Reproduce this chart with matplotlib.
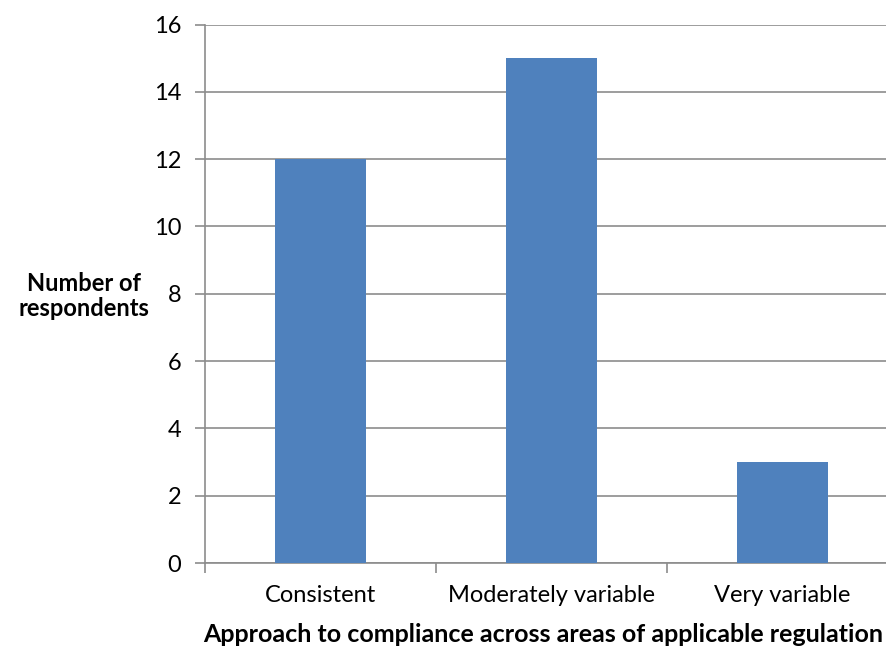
import numpy as np
import matplotlib.pyplot as plt

# --- datos ---
categories = ["Consistent", "Moderately variable", "Very variable"]
respondents = [12, 15, 3]

plt.rcParams['font.family'] = ['Lato', 'DejaVu Sans']

fig = plt.figure(figsize=(8.86, 6.46), dpi=100)
ax = fig.add_axes([205/886, 1-563/646, 693/886, (563-24.5)/646])

x = np.arange(len(categories))
ax.bar(x, respondents, width=0.39, color="#4F81BD", zorder=3)

ax.set_xlim(-0.5, len(categories) - 0.5)
ax.set_ylim(0, 16)
ax.set_yticks(np.arange(0, 17, 2))
ax.yaxis.grid(True, color="#8c8c8c", lw=1.2, zorder=0)

# ticks de categoría en los bordes
ax.set_xticks(np.arange(-0.5, len(categories) - 0.4, 1.0))
ax.set_xticklabels([])
ax.set_xticks(x, minor=True)
ax.set_xticklabels(categories, minor=True, fontsize=17)
ax.tick_params(axis="x", which="minor", length=0, pad=16)
ax.tick_params(axis="x", which="major", length=7, color="#8c8c8c", width=1.2)
ax.tick_params(axis="y", length=7, color="#8c8c8c", width=1.2, labelsize=17, pad=10)

for s in ["top", "right"]:
    ax.spines[s].set_visible(False)
for s in ["left", "bottom"]:
    ax.spines[s].set_color("#8c8c8c")
    ax.spines[s].set_linewidth(1.2)

fig.text(84/886, 1-296/646, "Number of\nrespondents", ha="center", va="center",
         fontsize=17, fontweight="bold", linespacing=1.15)
fig.text(543/886, 1-635/646, "Approach to compliance across areas of applicable regulation",
         ha="center", va="center", fontsize=18, fontweight="bold")

fig.savefig("out.png", dpi=100)
